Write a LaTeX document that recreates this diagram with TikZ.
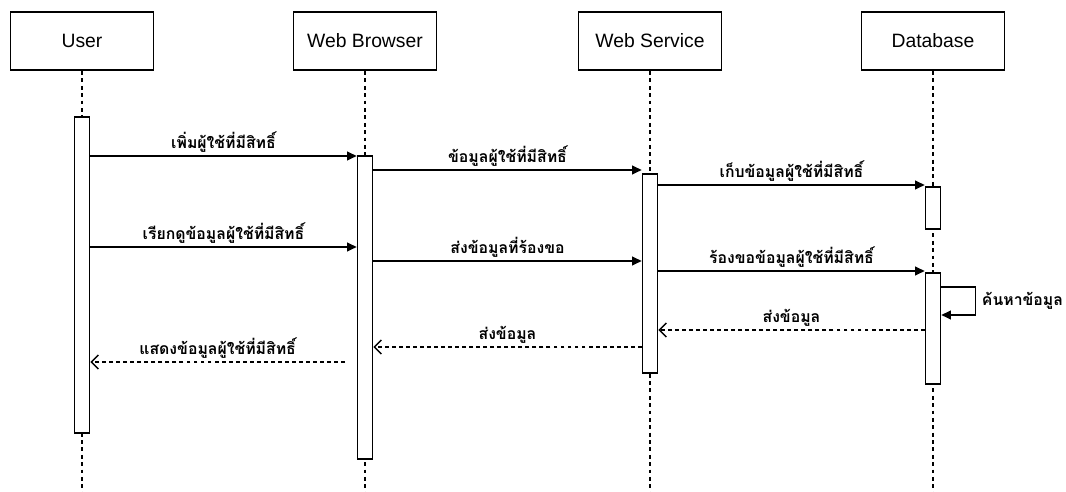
\documentclass[tikz,border=0pt]{standalone}
\usepackage{fontspec}
\setmainfont{Liberation Sans}
\newfontfamily\thaifont[Script=Thai]{Loma}
\usetikzlibrary{arrows.meta,positioning}

\begin{document}
\begin{tikzpicture}[x=0.02cm,y=-0.02cm]
    \tikzset{obj/.style={draw,line width=1pt,minimum width=2.86cm,minimum height=1.17cm,
                         font=\fontsize{11}{13}\selectfont},
             life/.style={line width=0.9pt,dash pattern=on 2.2pt off 2pt},
             actbar/.style={draw,line width=0.9pt,fill=white,minimum width=0.3cm,inner sep=0pt,anchor=north},
             msg/.style={line width=0.9pt,-{Triangle[length=5.5pt,width=5pt]}},
             ret/.style={line width=0.8pt,dash pattern=on 2.2pt off 1.8pt,-{Straight Barb[length=4pt,width=8pt]}},
             thtxt/.style={font=\thaifont\bfseries\fontsize{9}{11}\selectfont},
             lbl/.style={thtxt,above,inner sep=1.5pt}}
    \useasboundingbox (0,0) rectangle (1066,492);
    \coordinate (bot) at (0,492);
    % objects
    \node[obj] (user) at (82,41)  {User};
    \node[obj] (wb)   at (365,41) {Web Browser};
    \node[obj] (ws)   at (650,41) {Web Service};
    \node[obj] (db)   at (933,41) {Database};
    \foreach \o in {user,wb,ws,db}
        \draw[life] (\o.south) -- (\o.south |- bot);
    % activations
    \node[actbar,minimum height=6.32cm] (ubar)  at (82,116)  {};
    \node[actbar,minimum height=6.06cm] (wbbar) at (365,155) {};
    \node[actbar,minimum height=3.98cm] (wsbar) at (650,173) {};
    \node[actbar,minimum height=0.84cm] (dbbarA) at (933,186) {};
    \node[actbar,minimum height=2.22cm] (dbbarB) at (933,272) {};
    % messages
    \draw[msg] (ubar.east |- 0,156) -- node[lbl]{เพิ่มผู้ใช้ที่มีสิทธิ์} (wbbar.west |- 0,156);
    \draw[msg] (wbbar.east |- 0,170) -- node[lbl]{ข้อมูลผู้ใช้ที่มีสิทธิ์} (wsbar.west |- 0,170);
    \draw[msg] (wsbar.east |- 0,185) -- node[lbl]{เก็บข้อมูลผู้ใช้ที่มีสิทธิ์} (dbbarA.west |- 0,185);
    \draw[msg] (ubar.east |- 0,247) -- node[lbl]{เรียกดูข้อมูลผู้ใช้ที่มีสิทธิ์} (wbbar.west |- 0,247);
    \draw[msg] (wbbar.east |- 0,261) -- node[lbl]{ส่งข้อมูลที่ร้องขอ} (wsbar.west |- 0,261);
    \draw[msg] (wsbar.east |- 0,271) -- node[lbl]{ร้องขอข้อมูลผู้ใช้ที่มีสิทธิ์} (dbbarB.west |- 0,271);
    \draw[msg] (dbbarB.east |- 0,287) -- ++(34,0) -- ++(0,28)
        node[midway,right,thtxt]{ค้นหาข้อมูล}
        -- (dbbarB.east |- 0,315);
    \draw[ret] (dbbarB.west |- 0,330) -- node[lbl]{ส่งข้อมูล} (wsbar.east |- 0,330);
    \draw[ret] (wsbar.west |- 0,347) -- node[lbl]{ส่งข้อมูล} (wbbar.east |- 0,347);
    \draw[ret] (345,362) -- node[lbl]{แสดงข้อมูลผู้ใช้ที่มีสิทธิ์} (ubar.east |- 0,362);
\end{tikzpicture}
\end{document}
